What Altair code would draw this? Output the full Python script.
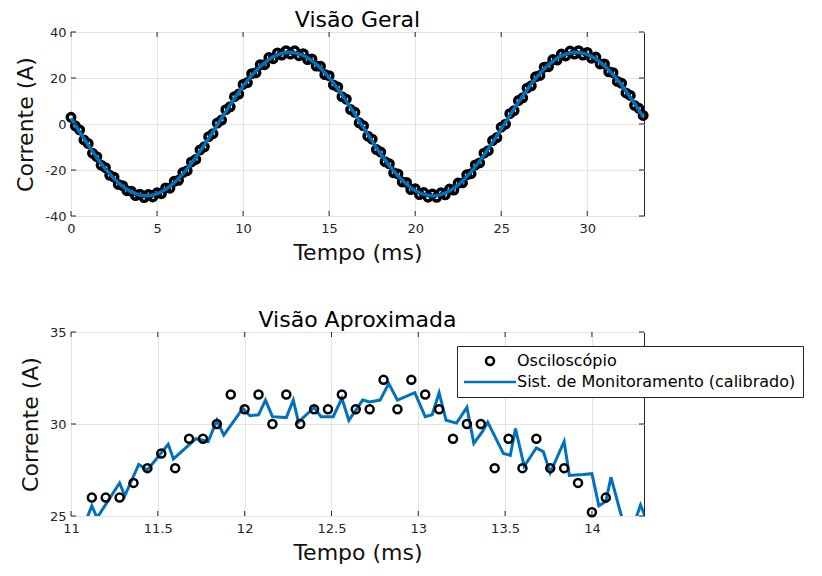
import altair as alt
import pandas as pd

FONT = "DejaVu Sans"
BLUE = "#0072BD"
AXC = "#262626"

# ---------- Visão Geral (overview) ----------
top_dt = 0.25  # ms between read samples
top_osc = [
    2.9, -0.8, -2.6, -6.9, -8.5, -12.7, -14.2, -17.9, -19.0, -22.3,
    -23.1, -26.3, -26.8, -29.0, -29.2, -31.1, -30.5, -32.0, -30.6, -31.7,
    -29.9, -30.3, -27.8, -27.9, -24.9, -24.5, -21.1, -20.3, -16.5, -15.4,
    -11.3, -9.9, -5.5, -4.2, 0.4, 1.7, 6.2, 7.5, 11.9, 13.0,
    17.2, 18.0, 21.9, 22.3, 25.8, 25.8, 28.9, 28.4, 30.9, 30.0,
    31.9, 30.4, 31.8, 29.7, 30.6, 28.0, 28.3, 25.2, 25.1, 21.5,
    21.0, 17.0, 16.1, 11.9, 10.8, 6.3, 5.1, 0.5, -0.8, -5.3,
    -6.6, -11.1, -12.2, -16.4, -17.3, -21.2, -21.7, -25.2, -25.4, -28.5,
    -28.1, -30.7, -29.8, -31.8, -30.4, -31.9, -29.9, -30.8, -28.3, -28.7,
    -25.7, -25.6, -22.1, -21.6, -17.8, -16.9, -12.7, -11.6, -7.2, -5.9,
    -1.4, -0.1, 4.5, 5.8, 10.2, 11.4, 15.6, 16.6, 20.5, 21.1,
    24.7, 24.9, 28.0, 27.8, 30.4, 29.6, 31.7, 30.4, 31.9, 30.0,
    31.1, 28.6, 29.1, 26.1, 26.1, 22.7, 22.3, 18.5, 17.7, 13.5,
    12.4, 8.1, 6.8, 3.7,
]
top_mon = [
    2.5, -0.4, -3.4, -6.3, -9.1, -11.9, -14.6, -17.1, -19.5, -21.7,
    -23.7, -25.5, -27.1, -28.4, -29.5, -30.3, -30.9, -31.2, -31.2, -30.9,
    -30.3, -29.5, -28.4, -27.1, -25.5, -23.7, -21.7, -19.5, -17.1, -14.6,
    -11.9, -9.1, -6.3, -3.4, -0.4, 2.5, 5.4, 8.3, 11.1, 13.8,
    16.4, 18.8, 21.1, 23.1, 25.0, 26.6, 28.1, 29.2, 30.1, 30.8,
    31.1, 31.2, 31.0, 30.5, 29.8, 28.8, 27.5, 26.0, 24.3, 22.3,
    20.2, 17.8, 15.3, 12.7, 10.0, 7.1, 4.3, 1.3, -1.6, -4.5,
    -7.4, -10.3, -13.0, -15.6, -18.1, -20.4, -22.5, -24.4, -26.2, -27.7,
    -28.9, -29.9, -30.6, -31.0, -31.2, -31.1, -30.7, -30.0, -29.1, -27.9,
    -26.5, -24.8, -22.9, -20.8, -18.6, -16.1, -13.5, -10.8, -8.0, -5.1,
    -2.2, 0.7, 3.7, 6.6, 9.4, 12.2, 14.8, 17.4, 19.7, 21.9,
    23.9, 25.7, 27.2, 28.6, 29.6, 30.4, 30.9, 31.2, 31.1, 30.8,
    30.3, 29.4, 28.3, 26.9, 25.3, 23.5, 21.5, 19.3, 16.9, 14.3,
    11.6, 8.9, 6.0, 3.1,
]
top_xdom = [0, 33.3]
top_ydom = [-40, 40]
top_xticks = [0, 5, 10, 15, 20, 25, 30]
top_yticks = [-40, -20, 0, 20, 40]

# ---------- Visão Aproximada (zoom) ----------
zoom_t0 = 11.12
zoom_dt = 0.08  # oscilloscope sample interval (ms)
zoom_osc = [
    26.0, 26.0, 26.0, 26.8, 27.6, 28.4, 27.6, 29.2, 29.2, 30.0,
    31.6, 30.8, 31.6, 30.0, 31.6, 30.0, 30.8, 30.8, 31.6, 30.8,
    30.8, 32.4, 30.8, 32.4, 31.6, 30.8, 29.2, 30.0, 30.0, 27.6,
    29.2, 27.6, 29.2, 27.6, 27.6, 26.8, 25.2, 26.0,
]
zoom_mon_t = [
    11.08, 11.12, 11.15, 11.28, 11.31, 11.39, 11.44, 11.56, 11.59, 11.72,
    11.79, 11.84, 11.88, 11.99, 12.03, 12.08, 12.12, 12.16, 12.24, 12.28,
    12.31, 12.40, 12.44, 12.51, 12.56, 12.60, 12.68, 12.72, 12.78, 12.83,
    12.88, 12.98, 13.04, 13.08, 13.12, 13.16, 13.22, 13.28, 13.32, 13.37,
    13.40, 13.49, 13.53, 13.56, 13.61, 13.68, 13.72, 13.76, 13.84, 13.87,
    13.95, 14.00, 14.04, 14.08, 14.11, 14.17, 14.20, 14.24, 14.28, 14.31,
]
zoom_mon_v = [
    24.6, 25.55, 24.9, 26.8, 26.1, 27.8, 27.5, 28.9, 28.1, 29.2,
    29.05, 30.2, 29.4, 30.85, 30.45, 30.5, 31.3, 30.4, 30.35, 31.3,
    30.1, 30.9, 30.4, 30.4, 31.4, 30.2, 31.3, 31.2, 31.3, 32.2,
    31.3, 31.7, 30.4, 30.5, 31.7, 30.2, 30.05, 30.9, 28.95, 29.6,
    30.1, 28.4, 28.3, 29.75, 27.7, 28.7, 28.5, 27.35, 29.05, 27.2,
    27.25, 27.3, 25.55, 25.8, 27.1, 25.0, 24.5, 24.5, 25.6, 24.9,
]
zoom_xdom = [11, 14.3]
zoom_ydom = [25, 35]
zoom_xticks = [11, 11.5, 12, 12.5, 13, 13.5, 14]
zoom_yticks = [25, 30, 35]

series_labels = ["Osciloscópio", "Sist. de Monitoramento (calibrado)"]

W, H = 573, 184
TICK = 5


def scales(xdom, ydom):
    return (alt.Scale(domain=xdom, nice=False, zero=False),
            alt.Scale(domain=ydom, nice=False, zero=False))


def axis_x(ticks):
    return alt.Axis(values=ticks, title="Tempo (ms)", labelExpr="'' + datum.value")


def axis_y(ticks):
    return alt.Axis(values=ticks, title="Corrente (A)", labelExpr="'' + datum.value")


def frame_ticks(xdom, ydom, xticks, yticks):
    xs, ys = scales(xdom, ydom)
    xdf = pd.DataFrame({"t": xticks})
    ydf = pd.DataFrame({"v": yticks})
    base_x = alt.Chart(xdf).mark_rule(color=AXC, strokeWidth=1)
    base_y = alt.Chart(ydf).mark_rule(color=AXC, strokeWidth=1)
    xb = base_x.encode(x=alt.X("t:Q", scale=xs, axis=axis_x(xticks)),
                       y=alt.value(H), y2=alt.value(H - TICK))
    xt = base_x.encode(x=alt.X("t:Q", scale=xs, axis=axis_x(xticks)),
                       y=alt.value(0), y2=alt.value(TICK))
    yl = base_y.encode(y=alt.Y("v:Q", scale=ys, axis=axis_y(yticks)),
                       x=alt.value(0), x2=alt.value(TICK))
    yr = base_y.encode(y=alt.Y("v:Q", scale=ys, axis=axis_y(yticks)),
                       x=alt.value(W), x2=alt.value(W - TICK))
    return [xb, xt, yl, yr]


# ----- top chart -----
top_df = pd.DataFrame({
    "t": [round(i * top_dt, 3) for i in range(len(top_osc))],
    "osc": top_osc,
    "mon": top_mon,
})
txs, tys = scales(top_xdom, top_ydom)
top_pts = alt.Chart(top_df).mark_point(
    filled=False, color="black", size=56, strokeWidth=3.5, opacity=1
).encode(
    x=alt.X("t:Q", scale=txs, axis=axis_x(top_xticks)),
    y=alt.Y("osc:Q", scale=tys, axis=axis_y(top_yticks)),
)
top_line = alt.Chart(top_df).mark_line(color=BLUE, strokeWidth=3.5).encode(
    x=alt.X("t:Q", scale=txs, axis=axis_x(top_xticks)),
    y=alt.Y("mon:Q", scale=tys, axis=axis_y(top_yticks)),
)
top = alt.layer(top_pts, top_line, *frame_ticks(top_xdom, top_ydom, top_xticks, top_yticks)).properties(
    width=W, height=H, title=alt.TitleParams("Visão Geral")
)

# ----- bottom chart -----
zoom_df = pd.DataFrame({
    "t": [round(zoom_t0 + i * zoom_dt, 3) for i in range(len(zoom_osc))],
    "v": zoom_osc,
    "series": series_labels[0],
})
mon_df = pd.DataFrame({"t": zoom_mon_t, "v": zoom_mon_v})
zxs, zys = scales(zoom_xdom, zoom_ydom)

legend = alt.Legend(
    title=None, orient="none", legendX=386, legendY=14,
    labelFont=FONT, labelFontSize=16, labelColor="#000000", labelLimit=0,
    fillColor="white", strokeColor=AXC, padding=7, rowPadding=4,
    symbolSize=64, symbolStrokeWidth=2.5, symbolOffset=18, labelOffset=19,
)
z_pts = alt.Chart(zoom_df).mark_point(
    filled=False, size=64, strokeWidth=2.5, opacity=1
).encode(
    x=alt.X("t:Q", scale=zxs, axis=axis_x(zoom_xticks)),
    y=alt.Y("v:Q", scale=zys, axis=axis_y(zoom_yticks)),
    color=alt.Color("series:N", scale=alt.Scale(domain=series_labels, range=["#000000", BLUE]), legend=legend),
    shape=alt.Shape("series:N", scale=alt.Scale(domain=series_labels, range=["circle", "M-6.5,0H6.5"]), legend=legend),
)
z_line = alt.Chart(mon_df).mark_line(color=BLUE, strokeWidth=3, clip=True).encode(
    x=alt.X("t:Q", scale=zxs, axis=axis_x(zoom_xticks)),
    y=alt.Y("v:Q", scale=zys, axis=axis_y(zoom_yticks)),
)
bottom = alt.layer(z_line, z_pts, *frame_ticks(zoom_xdom, zoom_ydom, zoom_xticks, zoom_yticks)).properties(
    width=W, height=H, title=alt.TitleParams("Visão Aproximada")
)

chart = alt.vconcat(top, bottom, spacing=44).resolve_scale(
    color="independent", shape="independent"
).resolve_legend(
    color="independent", shape="independent"
).configure(
    font=FONT,
    padding={"left": 6, "top": 0, "right": 0, "bottom": 0},
).configure_axis(
    labelFont=FONT, labelFontSize=13, labelColor=AXC, labelFlush=False,
    titleFont=FONT, titleFontSize=22, titleFontWeight="normal", titleColor="#111111",
    gridColor="#e3e3e3", gridWidth=1, domain=False, ticks=False,
    labelPadding=5,
).configure_axisX(titlePadding=7, labelPadding=6).configure_axisY(titlePadding=7).configure_view(
    stroke=AXC, strokeWidth=1
).configure_title(
    font=FONT, fontSize=22, fontWeight="normal", color="#000000", offset=-6
)

chart.save("out.html", embed_options={"renderer": "svg", "actions": False})
